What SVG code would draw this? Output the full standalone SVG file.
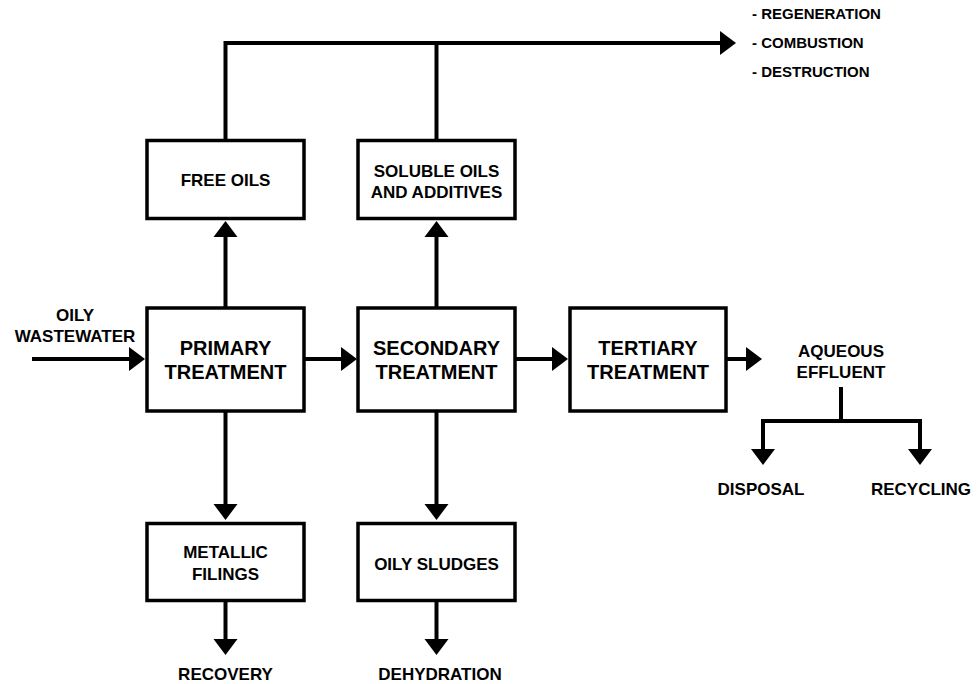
<svg xmlns="http://www.w3.org/2000/svg" width="979" height="684" viewBox="0 0 979 684">
<style>
.box{fill:#fff;stroke:#000;stroke-width:3.5}
.ln{fill:none;stroke:#000;stroke-width:4}
.arr{fill:none;stroke:#000;stroke-width:4;marker-end:url(#ah)}
text{font-family:"Liberation Sans",Arial,sans-serif;font-weight:bold;fill:#000;text-anchor:middle}
.big{font-size:20px}
.lbl{font-size:17px}
.lst{font-size:15px;text-anchor:start}
</style>
<defs>
<marker id="ah" markerUnits="userSpaceOnUse" markerWidth="17" markerHeight="24" refX="0" refY="12" orient="auto" overflow="visible">
<path d="M0,0 L16,12 L0,24 Z" fill="#000"/>
</marker>
</defs>
<rect width="979" height="684" fill="#fff"/>
<g id="connectors">
<path class="ln" d="M225.5,140 V43 H720"/>
<path class="arr" d="M700,43 H720"/>
<path class="ln" d="M436.5,140 V43"/>
<path class="arr" d="M32,359 H129"/>
<path class="arr" d="M304,359 H341"/>
<path class="arr" d="M515,359 H552"/>
<path class="arr" d="M727,359 H746"/>
<path class="arr" d="M225.5,308 V237"/>
<path class="arr" d="M436.5,308 V237"/>
<path class="arr" d="M225.5,411 V504"/>
<path class="arr" d="M436.5,411 V504"/>
<path class="arr" d="M225.5,601 V639"/>
<path class="arr" d="M436.5,601 V639"/>
<path class="ln" d="M841,387 V421"/>
<path class="ln" d="M763,421 H920"/>
<path class="arr" d="M763,419 V449"/>
<path class="arr" d="M920,419 V449"/>
</g>
<g id="oily-wastewater">
<text class="lbl" x="75" y="321">OILY</text>
<text class="lbl" x="75" y="342">WASTEWATER</text>
</g>
<g id="primary">
<rect class="box" x="147" y="308" width="157" height="103"/>
<text class="big" x="225.5" y="355">PRIMARY</text>
<text class="big" x="225.5" y="379">TREATMENT</text>
</g>
<g id="secondary">
<rect class="box" x="358" y="308" width="157" height="103"/>
<text class="big" x="436.5" y="355">SECONDARY</text>
<text class="big" x="436.5" y="379">TREATMENT</text>
</g>
<g id="tertiary">
<rect class="box" x="570" y="308" width="156" height="103"/>
<text class="big" x="648" y="355">TERTIARY</text>
<text class="big" x="648" y="379">TREATMENT</text>
</g>
<g id="free-oils">
<rect class="box" x="147" y="140.5" width="157" height="78"/>
<text class="lbl" x="225.5" y="186">FREE OILS</text>
</g>
<g id="soluble-oils">
<rect class="box" x="358" y="140.5" width="157" height="78"/>
<text class="lbl" x="436.5" y="177">SOLUBLE OILS</text>
<text class="lbl" x="436.5" y="198">AND ADDITIVES</text>
</g>
<g id="metallic-filings">
<rect class="box" x="147" y="523.5" width="157" height="77"/>
<text class="lbl" x="225.5" y="558">METALLIC</text>
<text class="lbl" x="225.5" y="580">FILINGS</text>
</g>
<g id="oily-sludges">
<rect class="box" x="358" y="523.5" width="157" height="77"/>
<text class="lbl" x="436.5" y="570">OILY SLUDGES</text>
</g>
<g id="recovery"><text class="lbl" x="225.5" y="680">RECOVERY</text></g>
<g id="dehydration"><text class="lbl" x="440" y="680">DEHYDRATION</text></g>
<g id="aqueous-effluent">
<text class="lbl" x="841" y="357">AQUEOUS</text>
<text class="lbl" x="841" y="378">EFFLUENT</text>
</g>
<g id="disposal"><text class="lbl" x="761" y="495">DISPOSAL</text></g>
<g id="recycling"><text class="lbl" x="921" y="495">RECYCLING</text></g>
<g id="oil-uses">
<text class="lst" x="752" y="19">- REGENERATION</text>
<text class="lst" x="752" y="48">- COMBUSTION</text>
<text class="lst" x="752" y="77">- DESTRUCTION</text>
</g>
</svg>
